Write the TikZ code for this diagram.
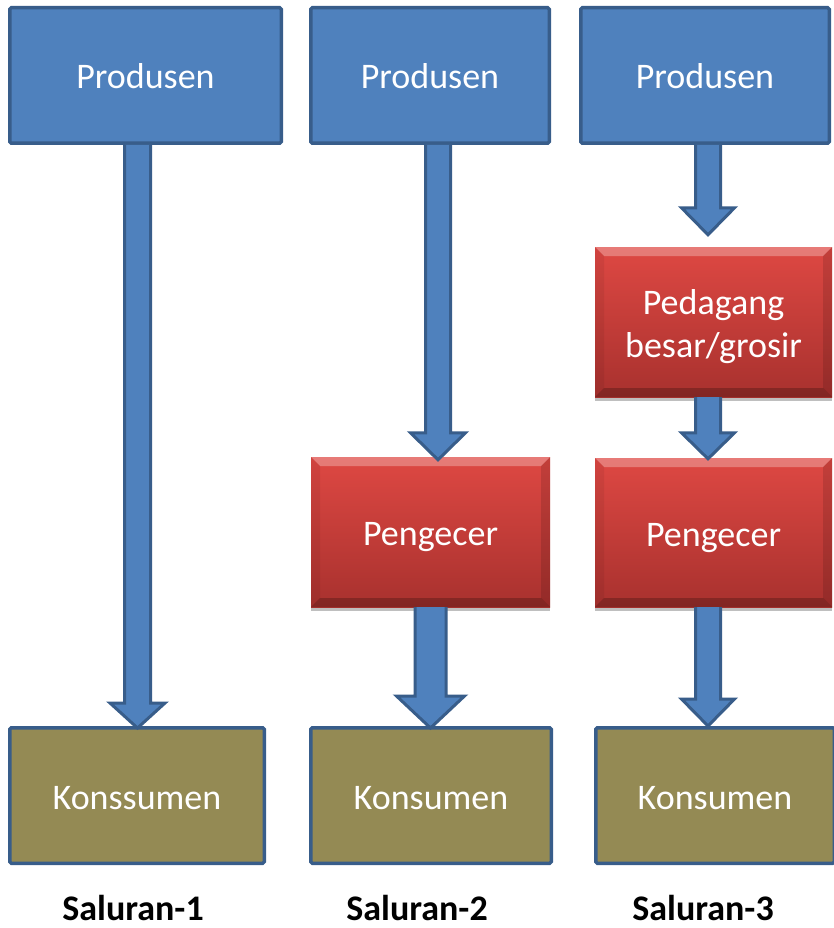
\documentclass[tikz,border=0pt]{standalone}
\usepackage{fontspec}
\setmainfont{Carlito}
\usetikzlibrary{calc,shadows}
\definecolor{bfill}{RGB}{79,129,189}
\definecolor{bline}{RGB}{56,93,138}
\definecolor{kfill}{RGB}{148,138,84}
\definecolor{rtop}{RGB}{222,72,67}
\definecolor{rbot}{RGB}{168,49,46}
\tikzset{
  every node/.style={font=\fontsize{36}{43}\selectfont, inner sep=0pt},
  sz/.style 2 args={minimum width=#1pt, minimum height=#2pt},
  oneline/.style={text height=27pt, text depth=0pt},
  bluebox/.style={oneline, draw=bline, fill=bfill, line width=3.5pt, text=white, rounded corners=1.5pt},
  konbox/.style={oneline, draw=bline, fill=kfill, line width=3.5pt, text=white, rounded corners=1.5pt},
  redbox/.style={top color=rtop, bottom color=rbot, text=white, align=center,
    drop shadow={shadow xshift=0pt, shadow yshift=-4pt, opacity=.25, fill=black},
    path picture={
      \fill[white,opacity=.28] let \p1=(path picture bounding box.north west), \p2=(path picture bounding box.south east) in
        (\x1,\y1) -- (\x2,\y1) -- ({\x2-9pt},{\y1-9pt}) -- ({\x1+9pt},{\y1-9pt}) -- cycle;
      \fill[black,opacity=.06] let \p1=(path picture bounding box.north west), \p2=(path picture bounding box.south east) in
        (\x1,\y1) -- ({\x1+9pt},{\y1-9pt}) -- ({\x1+9pt},{\y2+9pt}) -- (\x1,\y2) -- cycle;
      \fill[black,opacity=.12] let \p1=(path picture bounding box.north west), \p2=(path picture bounding box.south east) in
        (\x2,\y1) -- ({\x2-9pt},{\y1-9pt}) -- ({\x2-9pt},{\y2+9pt}) -- (\x2,\y2) -- cycle;
      \fill[black,opacity=.22] let \p1=(path picture bounding box.north west), \p2=(path picture bounding box.south east) in
        (\x1,\y2) -- ({\x1+9pt},{\y2+9pt}) -- ({\x2-9pt},{\y2+9pt}) -- (\x2,\y2) -- cycle;
    }},
  barrow/.style={fill=bfill, draw=bline, line width=3pt, line join=miter},
  lbl/.style={font=\fontsize{36}{43}\selectfont\bfseries, text=black, anchor=base}
}
% from, to, x centre, shaft half width, head half width, head length, tip offset (down)
\newcommand\blockarrow[7]{%
  \filldraw[barrow] let \p1=(#1.south), \p2=(#2.north), \p3=(#3,0) in
    ({\x3-#4pt},\y1) -- ({\x3-#4pt},{\y2-(#7pt)+#6pt}) -- ({\x3-#5pt},{\y2-(#7pt)+#6pt})
    -- (\x3,{\y2-(#7pt)}) -- ({\x3+#5pt},{\y2-(#7pt)+#6pt}) -- ({\x3+#4pt},{\y2-(#7pt)+#6pt})
    -- ({\x3+#4pt},\y1);}
\begin{document}
\begin{tikzpicture}[x=1pt, y=-1pt]
\useasboundingbox[fill=white] (0,0) rectangle (833,928);

% Produsen boxes
\node[bluebox, sz={271.5}{135.5}] (p1) at (145.5,75.5) {Produsen};
\node[bluebox, sz={238.5}{135.5}] (p2) at (430,75.5) {Produsen};
\node[bluebox, sz={248.5}{135.5}] (p3) at (705,75.5) {Produsen};

% Red boxes
\node[redbox, sz={237}{150}, text height=70pt, text depth=0pt] (d3) at (713.5,322) {Pedagang\\besar/grosir};
\node[redbox, oneline, sz={239}{150}] (g2) at (430.5,532) {Pengecer};
\node[redbox, oneline, sz={237}{149}] (g3) at (713.5,532.5) {Pengecer};

% Konsumen boxes
\node[konbox, sz={254.5}{135.5}] (k1) at (137,795.5) {Konssumen};
\node[konbox, sz={240.5}{135.5}] (k2) at (431,795.5) {Konsumen};
\node[konbox, sz={238.5}{135.5}] (k3) at (715,795.5) {Konsumen};

% Arrows
\blockarrow{p1}{k1}{137.5}{13}{27.5}{25}{2}
\blockarrow{p2}{g2}{438}{12.5}{27.5}{27}{3}
\blockarrow{g2}{k2}{430.5}{15.5}{34}{32}{2}
\blockarrow{p3}{d3}{708}{12.5}{26.5}{27}{-12}
\blockarrow{d3}{g3}{708}{12.5}{26.5}{26}{1}
\blockarrow{g3}{k3}{708}{12.5}{26.5}{27}{0}

% Labels
\node[lbl] (s1) at (133,920) {Saluran-1};
\node[lbl] (s2) at (417,920) {Saluran-2};
\node[lbl] (s3) at (703,920) {Saluran-3};
\end{tikzpicture}
\end{document}
